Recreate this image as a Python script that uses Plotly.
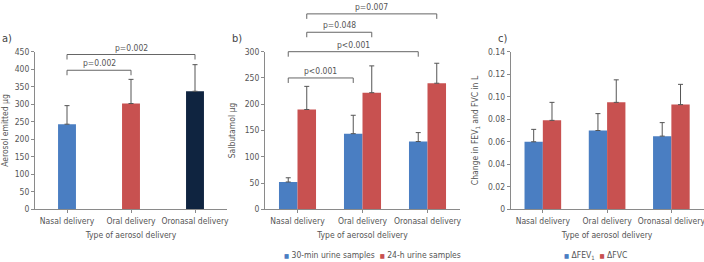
import plotly.graph_objects as go

# ---------------- data ----------------
categories = ["Nasal delivery", "Oral delivery", "Oronasal delivery"]

# panel a: aerosol emitted (µg)
aerosol_mean = [243, 302, 337]
aerosol_err = [53, 69, 76]

# panel b: salbutamol (µg)
urine30_mean = [52, 144, 129]
urine30_err = [8, 35, 17]
urine24_mean = [190, 222, 240]
urine24_err = [44, 51, 38]

# panel c: change in FEV1 / FVC (L)
fev1_mean = [0.060, 0.070, 0.065]
fev1_err = [0.011, 0.015, 0.012]
fvc_mean = [0.079, 0.095, 0.093]
fvc_err = [0.016, 0.020, 0.018]

# significance brackets: (series, cat index, series, cat index, height, label)
a_brackets = [(None, 0, None, 1, 397, "p=0.002"), (None, 0, None, 2, 442, "p=0.002")]
b_brackets = [
    (0, 0, 0, 1, 250, "p<0.001"),
    (0, 0, 0, 2, 300, "p<0.001"),
    (1, 0, 1, 1, 337, "p=0.048"),
    (1, 0, 1, 2, 372, "p=0.007"),
]

# ---------------- style ----------------
W, H = 704, 262
BLUE = "#4a7ec2"
RED = "#c85150"
NAVY = "#0f2440"
TXT = "#555555"
AX = "#8a8a8a"
FONT = "Liberation Sans Narrow, DejaVu Sans Condensed, Roboto, sans-serif"
FS = 8.5

ydom = [1 - 209.3 / H, 1 - 51.7 / H]
xdoms = [[35 / W, 227 / W], [265 / W, 460 / W], [510.7 / W, 703.5 / W]]
ymax = [450, 300, 0.14]
BARGAP = 0.43
half = (1 - BARGAP) / 2  # width of one bar in grouped panels

err_style = dict(type="data", symmetric=False, color="#555555", thickness=1, width=2.5)

fig = go.Figure()

# panel a
fig.add_trace(go.Bar(
    x=categories, y=aerosol_mean, width=[0.28] * 3,
    marker=dict(color=[BLUE, RED, NAVY], line=dict(width=0)),
    error_y=dict(array=aerosol_err, arrayminus=[0] * 3, **err_style),
    xaxis="x", yaxis="y", showlegend=False, name="Aerosol emitted",
))
# panel b
fig.add_trace(go.Bar(
    x=categories, y=urine30_mean, marker=dict(color=BLUE, line=dict(width=0)),
    error_y=dict(array=urine30_err, arrayminus=[0] * 3, **err_style),
    xaxis="x2", yaxis="y2", showlegend=False, name="30-min urine samples", offsetgroup="b1",
))
fig.add_trace(go.Bar(
    x=categories, y=urine24_mean, marker=dict(color=RED, line=dict(width=0)),
    error_y=dict(array=urine24_err, arrayminus=[0] * 3, **err_style),
    xaxis="x2", yaxis="y2", showlegend=False, name="24-h urine samples", offsetgroup="b2",
))
# panel c
fig.add_trace(go.Bar(
    x=categories, y=fev1_mean, marker=dict(color=BLUE, line=dict(width=0)),
    error_y=dict(array=fev1_err, arrayminus=[0] * 3, **err_style),
    xaxis="x3", yaxis="y3", showlegend=False, name="ΔFEV1", offsetgroup="c1",
))
fig.add_trace(go.Bar(
    x=categories, y=fvc_mean, marker=dict(color=RED, line=dict(width=0)),
    error_y=dict(array=fvc_err, arrayminus=[0] * 3, **err_style),
    xaxis="x3", yaxis="y3", showlegend=False, name="ΔFVC", offsetgroup="c2",
))


def ypaper(v, i):
    return ydom[0] + v / ymax[i] * (ydom[1] - ydom[0])


def xpos(series, idx):
    if series is None:
        return idx
    return idx + (-half / 2 if series == 0 else half / 2)


shapes = []
annotations = []
drop = 5 / H
for panel, brackets, xr in ((0, a_brackets, "x"), (1, b_brackets, "x2")):
    for s1, c1, s2, c2, h, lab in brackets:
        x1, x2 = xpos(s1, c1), xpos(s2, c2)
        yp = ypaper(h, panel)
        line = dict(color="#666666", width=1)
        shapes.append(dict(type="line", xref=xr, yref="paper", x0=x1, x1=x2, y0=yp, y1=yp, line=line))
        shapes.append(dict(type="line", xref=xr, yref="paper", x0=x1, x1=x1, y0=yp, y1=yp - drop, line=line))
        shapes.append(dict(type="line", xref=xr, yref="paper", x0=x2, x1=x2, y0=yp, y1=yp - drop, line=line))
        annotations.append(dict(text=lab, xref=xr, yref="paper", x=(x1 + x2) / 2, y=yp,
                                yanchor="middle", xanchor="center", yshift=7, showarrow=False,
                                font=dict(size=FS, color=TXT, family=FONT)))

# panel labels
for lab, xp in (("a)", 0), ("b)", 230), ("c)", 496)):
    annotations.append(dict(text=lab, xref="paper", yref="paper", x=xp / W, y=1 - 38 / H,
                            xanchor="left", yanchor="middle", showarrow=False,
                            font=dict(size=11, color="#444444", family=FONT)))

# legends (as text with coloured squares)
sq = "<span style='color:%s;font-size:6px'>■</span>"
annotations.append(dict(
    text=(sq % BLUE) + " 30-min urine samples  " + (sq % RED) + " 24-h urine samples",
    xref="paper", yref="paper", x=372 / W, y=1 - 255 / H, xanchor="center", yanchor="middle",
    showarrow=False, font=dict(size=FS, color=TXT, family=FONT)))
annotations.append(dict(
    text=(sq % BLUE) + " ΔFEV<sub>1</sub>  " + (sq % RED) + " ΔFVC",
    xref="paper", yref="paper", x=595 / W, y=1 - 255 / H, xanchor="center", yanchor="middle",
    showarrow=False, font=dict(size=FS, color=TXT, family=FONT)))

xcommon = dict(type="category", range=[-0.5, 2.5], showline=True, linecolor=AX, linewidth=1,
               ticks="outside", ticklen=3, tickcolor=AX, showgrid=False, zeroline=False,
               tickangle=0, automargin=False,
               tickfont=dict(size=FS, color=TXT, family=FONT),
               title=dict(text="Type of aerosol delivery", font=dict(size=FS, color=TXT, family=FONT), standoff=7))
ycommon = dict(showline=True, linecolor=AX, linewidth=1, ticks="outside", ticklen=3, tickcolor=AX,
               showgrid=False, zeroline=False, domain=ydom, automargin=False,
               tickfont=dict(size=FS, color=TXT, family=FONT))

c_ticks = [0, 0.02, 0.04, 0.06, 0.08, 0.10, 0.12, 0.14]
fig.update_layout(
    width=W, height=H, margin=dict(l=0, r=0, t=0, b=0),
    paper_bgcolor="white", plot_bgcolor="white",
    bargap=BARGAP, bargroupgap=0, barmode="group",
    font=dict(family=FONT, size=FS, color=TXT),
    xaxis=dict(domain=xdoms[0], anchor="y", **xcommon),
    xaxis2=dict(domain=xdoms[1], anchor="y2", **xcommon),
    xaxis3=dict(domain=xdoms[2], anchor="y3", **xcommon),
    yaxis=dict(anchor="x", range=[0, 450], dtick=50,
               title=dict(text="Aerosol emitted µg", font=dict(size=FS, color=TXT, family=FONT), standoff=6),
               **ycommon),
    yaxis2=dict(anchor="x2", range=[0, 300], dtick=50,
                title=dict(text="Salbutamol µg", font=dict(size=FS, color=TXT, family=FONT), standoff=7),
                **ycommon),
    yaxis3=dict(anchor="x3", range=[0, 0.14], tickvals=c_ticks,
                ticktext=["0"] + ["%.2f" % t for t in c_ticks[1:]],
                title=dict(text="Change in FEV<sub>1</sub> and FVC in L",
                           font=dict(size=FS, color=TXT, family=FONT), standoff=7),
                **ycommon),
    shapes=shapes, annotations=annotations, showlegend=False,
)

fig.write_html("out.html", config={"displayModeBar": False},
               post_script="document.body.style.margin='0';document.body.style.overflow='hidden';")
